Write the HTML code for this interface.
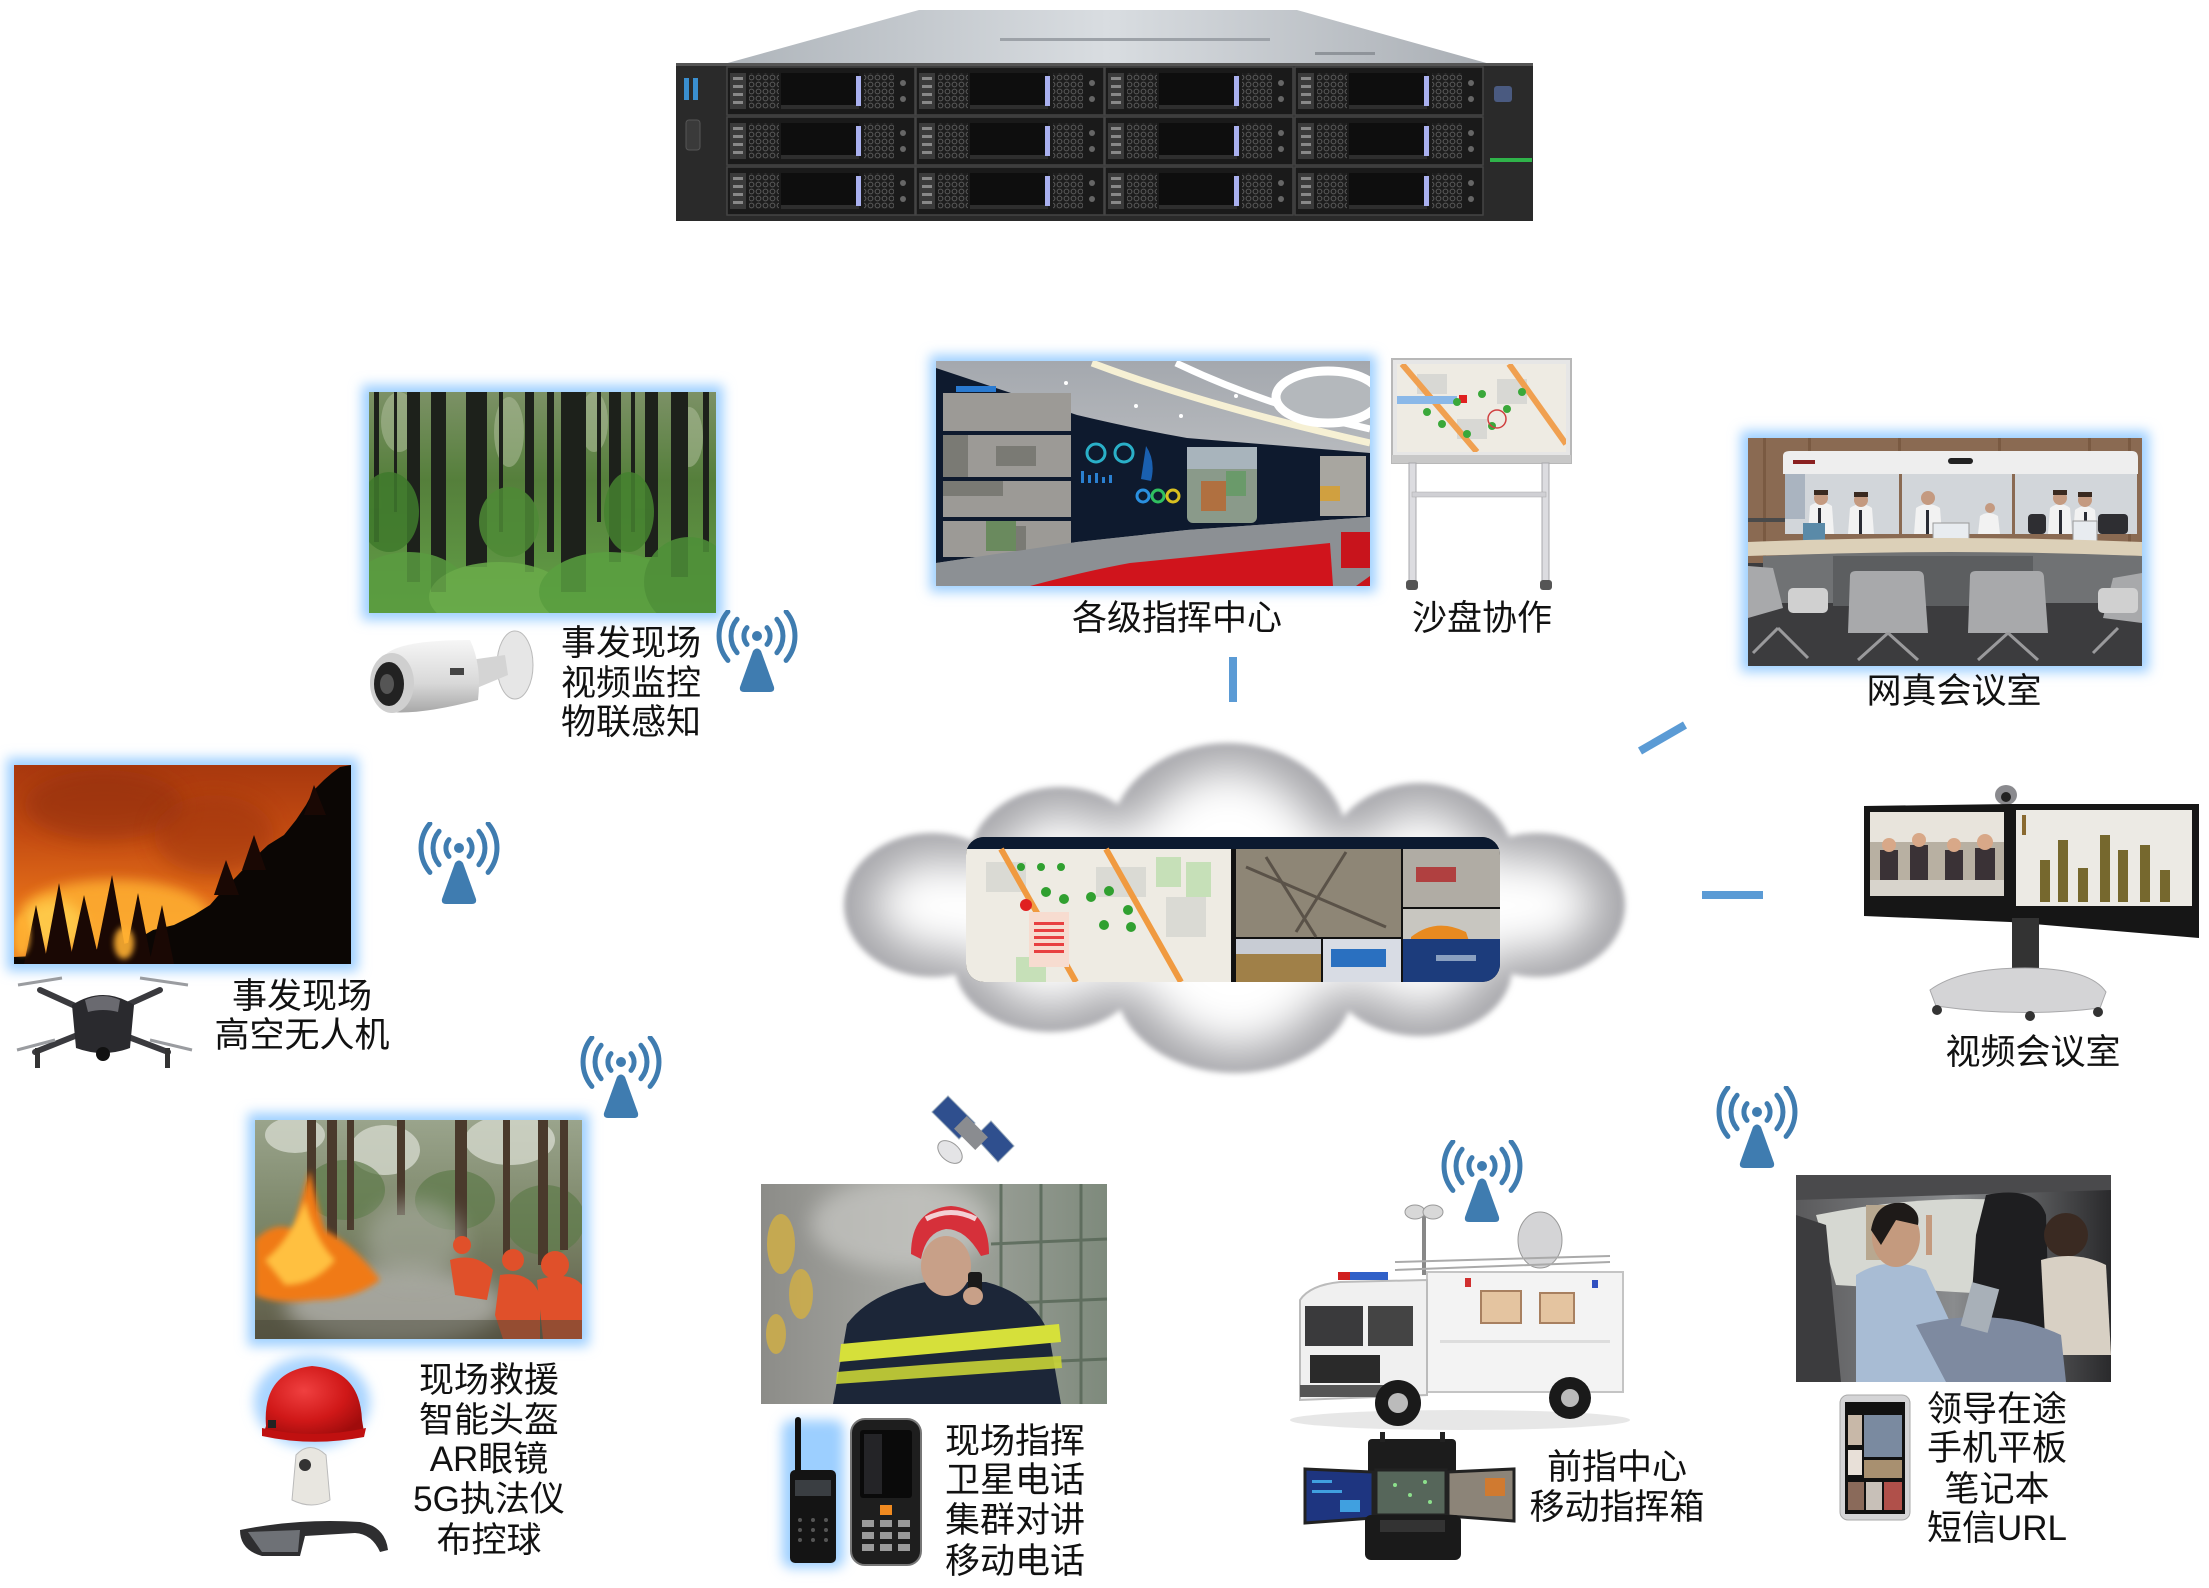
<!DOCTYPE html>
<html><head><meta charset="utf-8">
<style>
html,body{margin:0;padding:0;background:#fff;}
svg{display:block;}
text{font-family:"Liberation Sans","Noto Sans CJK SC",sans-serif;font-size:35px;fill:#111;}
</style></head><body>
<svg width="2209" height="1588" viewBox="0 0 2209 1588" xmlns="http://www.w3.org/2000/svg">
<defs>
 <filter id="blur6" x="-30%" y="-30%" width="160%" height="160%"><feGaussianBlur stdDeviation="6"/></filter>
 <filter id="blur3" x="-30%" y="-30%" width="160%" height="160%"><feGaussianBlur stdDeviation="3"/></filter>
 <filter id="blur10" x="-30%" y="-30%" width="160%" height="160%"><feGaussianBlur stdDeviation="10"/></filter>
 <filter id="cloudIn" x="-10%" y="-10%" width="120%" height="120%"><feMorphology operator="erode" radius="22"/><feGaussianBlur stdDeviation="22"/></filter>
 <linearGradient id="srvTop" x1="0" y1="0" x2="1" y2="0"><stop offset="0" stop-color="#aeb4ba"/><stop offset="0.5" stop-color="#d9dde1"/><stop offset="1" stop-color="#a9aeb4"/></linearGradient>
 <pattern id="mesh" width="7" height="7" patternUnits="userSpaceOnUse"><rect width="7" height="7" fill="#1d1d1d"/><circle cx="3.5" cy="3.5" r="2.4" fill="none" stroke="#5a5a5a" stroke-width="1"/></pattern>
 <linearGradient id="forestBg" x1="0" y1="0" x2="0" y2="1"><stop offset="0" stop-color="#7c9166"/><stop offset="0.4" stop-color="#557f3b"/><stop offset="1" stop-color="#62a046"/></linearGradient>
 <linearGradient id="fireBg" x1="0" y1="0" x2="0" y2="1"><stop offset="0" stop-color="#a8380e"/><stop offset="0.35" stop-color="#c44c12"/><stop offset="0.65" stop-color="#e06a18"/><stop offset="1" stop-color="#f09028"/></linearGradient>
 <linearGradient id="ffBg" x1="0" y1="0" x2="0" y2="1"><stop offset="0" stop-color="#9aa48c"/><stop offset="0.5" stop-color="#7a8466"/><stop offset="1" stop-color="#5e5a48"/></linearGradient>
 <linearGradient id="manBg" x1="0" y1="0" x2="1" y2="0"><stop offset="0" stop-color="#8c8c88"/><stop offset="0.45" stop-color="#a8a9a4"/><stop offset="1" stop-color="#7e8a7c"/></linearGradient>
 <linearGradient id="ccBg" x1="0" y1="0" x2="0" y2="1"><stop offset="0" stop-color="#a4a8ae"/><stop offset="0.4" stop-color="#b6b9bd"/><stop offset="1" stop-color="#8c9094"/></linearGradient>
 <linearGradient id="carBg" x1="0" y1="0" x2="1" y2="0"><stop offset="0" stop-color="#5a5a5c"/><stop offset="0.5" stop-color="#8a8c8e"/><stop offset="1" stop-color="#2a2a2c"/></linearGradient>
 <radialGradient id="helm" cx="0.4" cy="0.35" r="0.7"><stop offset="0" stop-color="#f04040"/><stop offset="0.6" stop-color="#d01818"/><stop offset="1" stop-color="#a00c0c"/></radialGradient>
 <linearGradient id="camBody" x1="0" y1="0" x2="0" y2="1"><stop offset="0" stop-color="#f6f6f6"/><stop offset="0.6" stop-color="#d8d8d8"/><stop offset="1" stop-color="#a8a8a8"/></linearGradient>
 <clipPath id="scrClip"><rect x="0" y="0" width="534" height="145" rx="18"/></clipPath>
 <symbol id="ant" viewBox="0 0 82 84">
  <g fill="none" stroke="#3f7cb0" stroke-width="5" stroke-linecap="round">
   <path d="M31,17.6 A13,13 0 0 0 31,34.4"/><path d="M51,17.6 A13,13 0 0 1 51,34.4"/>
   <path d="M21.1,9.3 A26,26 0 0 0 21.1,42.7"/><path d="M60.9,9.3 A26,26 0 0 1 60.9,42.7"/>
   <path d="M11.9,1.6 A38,38 0 0 0 11.9,50.4"/><path d="M70.1,1.6 A38,38 0 0 1 70.1,50.4"/>
  </g>
  <circle cx="41" cy="26" r="5" fill="#3f7cb0"/>
  <path d="M37,41 Q41,36 45,41 L58,77 Q59,82 54,82 L28,82 Q23,82 24,77 Z" fill="#3f7cb0"/>
 </symbol>
 <g id="bay">
  <rect x="0" y="0" width="188" height="48" fill="#1a1a1a" stroke="#444" stroke-width="1.5"/>
  <rect x="3" y="6" width="16" height="36" fill="#3a3a3a"/>
  <rect x="6" y="10" width="10" height="3" fill="#888"/><rect x="6" y="18" width="10" height="3" fill="#888"/><rect x="6" y="26" width="10" height="3" fill="#888"/><rect x="6" y="34" width="10" height="3" fill="#888"/>
  <rect x="22" y="6" width="30" height="36" fill="url(#mesh)"/>
  <rect x="54" y="6" width="78" height="36" fill="#0e0e0e"/>
  <rect x="54" y="38" width="78" height="4" fill="#2e2e2e"/>
  <rect x="129" y="9" width="5" height="30" fill="#a9b0ef"/>
  <rect x="137" y="6" width="30" height="36" fill="url(#mesh)"/>
  <circle cx="176" cy="16" r="3" fill="#666"/><circle cx="176" cy="32" r="3" fill="#666"/>
 </g>
</defs>

<rect width="2209" height="1588" fill="#fff"/>

<!-- SERVER -->
<g>
 <polygon points="919,10 1297,10 1490,64 724,64" fill="url(#srvTop)"/>
 <rect x="1000" y="38" width="270" height="3" fill="#9da2a8"/>
 <rect x="1315" y="52" width="60" height="3" fill="#8f949a"/>
 <rect x="676" y="63" width="857" height="158" fill="#2a2a2a"/>
 <rect x="676" y="63" width="857" height="3" fill="#555"/>
 <rect x="684" y="78" width="5" height="22" fill="#3a8fd0"/><rect x="693" y="78" width="5" height="22" fill="#3a8fd0"/>
 <rect x="686" y="120" width="14" height="30" rx="3" fill="#3a3a3a" stroke="#555"/>
 <rect x="1494" y="86" width="18" height="16" rx="3" fill="#4a5a80"/>
 <rect x="1490" y="158" width="42" height="4" fill="#2fb34a"/>
 <use href="#bay" x="727" y="67"/><use href="#bay" x="916" y="67"/><use href="#bay" x="1105" y="67"/><use href="#bay" x="1295" y="67"/>
 <use href="#bay" x="727" y="117"/><use href="#bay" x="916" y="117"/><use href="#bay" x="1105" y="117"/><use href="#bay" x="1295" y="117"/>
 <use href="#bay" x="727" y="167"/><use href="#bay" x="916" y="167"/><use href="#bay" x="1105" y="167"/><use href="#bay" x="1295" y="167"/>
</g>

<!-- FOREST -->
<rect x="362" y="385" width="361" height="235" fill="#9ccfff" filter="url(#blur6)"/>
<svg x="369" y="392" width="347" height="221">
 <rect width="347" height="221" fill="url(#forestBg)"/>
 <g fill="#b4c2a0" opacity="0.5"><ellipse cx="30" cy="30" rx="18" ry="30"/><ellipse cx="140" cy="40" rx="15" ry="35"/><ellipse cx="225" cy="30" rx="14" ry="30"/><ellipse cx="320" cy="45" rx="14" ry="30"/></g>
 <g fill="#1d211b">
  <rect x="5" y="0" width="5" height="150"/><rect x="38" y="0" width="13" height="190"/><rect x="62" y="0" width="15" height="200"/>
  <rect x="97" y="0" width="21" height="175"/><rect x="156" y="0" width="9" height="180"/><rect x="178" y="0" width="7" height="160"/>
  <rect x="192" y="0" width="25" height="200"/><rect x="240" y="0" width="12" height="170"/><rect x="276" y="0" width="13" height="165"/>
  <rect x="302" y="0" width="17" height="185"/><rect x="334" y="0" width="6" height="160"/>
  <rect x="25" y="0" width="3" height="120"/><rect x="130" y="0" width="4" height="140"/><rect x="228" y="0" width="4" height="130"/><rect x="262" y="0" width="4" height="140"/>
 </g>
 <g opacity="0.85">
  <ellipse cx="40" cy="200" rx="60" ry="40" fill="#5a9c40"/><ellipse cx="130" cy="205" rx="70" ry="35" fill="#6aac4a"/>
  <ellipse cx="240" cy="200" rx="70" ry="40" fill="#5aa040"/><ellipse cx="320" cy="190" rx="45" ry="45" fill="#4e9038"/>
  <ellipse cx="20" cy="120" rx="30" ry="40" fill="#3f7a2c"/><ellipse cx="140" cy="130" rx="30" ry="35" fill="#4e8a36"/>
  <ellipse cx="260" cy="120" rx="25" ry="40" fill="#45822f"/>
 </g>
</svg>

<!-- bullet camera -->
<g>
 <ellipse cx="515" cy="665" rx="18" ry="34" fill="#e6e6e6" stroke="#bbb"/>
 <path d="M470,660 L505,655 L508,675 L472,690 Z" fill="#d4d4d4"/>
 <path d="M385,655 Q400,640 470,640 Q482,665 478,700 Q420,715 390,712 Z" fill="url(#camBody)"/>
 <ellipse cx="392" cy="683" rx="22" ry="30" fill="#cfcfcf"/>
 <ellipse cx="389" cy="684" rx="15" ry="22" fill="#222"/>
 <ellipse cx="387" cy="684" rx="7" ry="10" fill="#555"/>
 <rect x="450" y="668" width="14" height="7" fill="#444"/>
</g>
<text x="631" y="655" text-anchor="middle">事发现场</text>
<text x="631" y="695" text-anchor="middle">视频监控</text>
<text x="631" y="734" text-anchor="middle">物联感知</text>
<use href="#ant" x="716" y="610" width="82" height="84"/>

<!-- FIRE -->
<rect x="7" y="758" width="351" height="213" fill="#9ccfff" filter="url(#blur6)"/>
<svg x="14" y="765" width="337" height="199">
 <rect width="337" height="199" fill="url(#fireBg)"/>
 <ellipse cx="90" cy="40" rx="80" ry="35" fill="#8a2a0a" opacity="0.5" filter="url(#blur10)"/>
 <ellipse cx="200" cy="70" rx="60" ry="40" fill="#9a3008" opacity="0.5" filter="url(#blur10)"/>
 <ellipse cx="100" cy="150" rx="95" ry="35" fill="#ffb030" opacity="0.85" filter="url(#blur6)"/>
 <ellipse cx="40" cy="160" rx="30" ry="25" fill="#ffd050" opacity="0.8" filter="url(#blur6)"/>
 <path d="M337,0 L337,199 L0,199 L0,192 L40,190 L70,186 L100,182 L120,176 L139,165 L160,160 L180,150 L196,140 L210,124 L222,112 L238,95 L254,80 L270,70 L282,55 L292,40 L300,25 L310,15 L318,8 L326,2 Z" fill="#0b0604"/>
 <g fill="#1a0804">
  <path d="M10,199 L22,140 L34,199 Z"/><path d="M30,199 L45,118 L60,199 Z"/><path d="M55,199 L70,130 L86,199 Z"/>
  <path d="M80,199 L98,110 L114,199 Z"/><path d="M110,199 L124,128 L138,199 Z"/><path d="M135,199 L148,140 L160,199 Z"/>
  <path d="M200,130 L212,95 L225,130 Z"/><path d="M228,105 L240,70 L252,105 Z"/><path d="M290,50 L300,20 L312,50 Z"/>
 </g>
 <ellipse cx="8" cy="170" rx="8" ry="20" fill="#ffb030" opacity="0.9" filter="url(#blur3)"/>
 <ellipse cx="110" cy="178" rx="10" ry="16" fill="#ffb030" opacity="0.9" filter="url(#blur3)"/>
</svg>

<!-- drone -->
<g>
 <g stroke="#3a3a3e" stroke-width="6" stroke-linecap="round"><line x1="95" y1="1015" x2="40" y2="990"/><line x1="105" y1="1015" x2="160" y2="990"/><line x1="90" y1="1030" x2="35" y2="1052"/><line x1="110" y1="1030" x2="168" y2="1052"/></g>
 <g stroke="#9a9ca0" stroke-width="3"><line x1="18" y1="985" x2="62" y2="978"/><line x1="140" y1="978" x2="188" y2="985"/><line x1="17" y1="1050" x2="55" y2="1040"/><line x1="150" y1="1040" x2="192" y2="1050"/></g>
 <path d="M72,1005 Q103,985 134,1005 L130,1048 Q103,1058 76,1048 Z" fill="#2a2a2e"/>
 <path d="M85,1000 Q103,992 120,1000 L118,1012 Q103,1008 88,1012 Z" fill="#6a6a70"/>
 <rect x="35" y="1048" width="5" height="20" fill="#333"/><rect x="165" y="1048" width="5" height="20" fill="#333"/>
 <circle cx="103" cy="1054" r="7" fill="#111"/>
</g>
<text x="302" y="1008" text-anchor="middle">事发现场</text>
<text x="302" y="1047" text-anchor="middle">高空无人机</text>
<use href="#ant" x="418" y="822" width="82" height="84"/>
<use href="#ant" x="580" y="1036" width="82" height="84"/>

<!-- FIRE FIGHT -->
<rect x="248" y="1113" width="341" height="233" fill="#9ccfff" filter="url(#blur6)"/>
<svg x="255" y="1120" width="327" height="219">
 <rect width="327" height="219" fill="url(#ffBg)"/>
 <g fill="#d4d8cc" opacity="0.8"><ellipse cx="40" cy="15" rx="30" ry="18"/><ellipse cx="130" cy="30" rx="35" ry="25"/><ellipse cx="255" cy="20" rx="45" ry="25"/></g>
 <g fill="#5e7a4a" opacity="0.7"><ellipse cx="90" cy="70" rx="40" ry="30"/><ellipse cx="200" cy="80" rx="40" ry="30"/><ellipse cx="290" cy="100" rx="40" ry="35"/></g>
 <g fill="#4a3a2c"><rect x="52" y="0" width="9" height="125"/><rect x="72" y="0" width="10" height="120"/><rect x="92" y="0" width="7" height="110"/><rect x="142" y="0" width="8" height="95"/><rect x="200" y="0" width="12" height="130"/><rect x="248" y="0" width="7" height="140"/><rect x="283" y="0" width="10" height="145"/><rect x="305" y="0" width="8" height="130"/></g>
 <ellipse cx="140" cy="185" rx="110" ry="40" fill="#b8b8b4" opacity="0.75" filter="url(#blur10)"/>
 <ellipse cx="160" cy="120" rx="50" ry="40" fill="#a8aca0" opacity="0.6" filter="url(#blur10)"/>
 <path d="M0,120 Q20,100 40,110 Q45,80 55,50 Q62,85 70,110 Q100,125 125,160 Q100,180 60,180 Q20,185 0,175 Z" fill="#f07a16" filter="url(#blur3)"/>
 <path d="M10,140 Q35,120 50,80 Q60,120 80,140 Q60,165 30,165 Z" fill="#ffc040" filter="url(#blur3)"/>
 <g fill="#e0502a">
  <circle cx="207" cy="125" r="9"/><circle cx="258" cy="140" r="11"/><circle cx="300" cy="145" r="14"/>
  <path d="M195,140 Q220,132 238,150 L232,180 L200,175 Z"/>
  <path d="M245,155 Q275,150 285,175 L285,219 L248,219 L240,195 Z"/>
  <path d="M282,160 Q315,150 327,165 L327,219 L288,219 Z"/>
 </g>
 <rect x="0" y="200" width="327" height="19" fill="#4a4a3a" opacity="0.5"/>
</svg>

<!-- helmet -->
<ellipse cx="312" cy="1402" rx="58" ry="46" fill="#a8d4ff" filter="url(#blur6)"/>
<path d="M266,1426 Q262,1372 312,1366 Q360,1370 362,1420 L364,1432 Q312,1442 264,1432 Z" fill="url(#helm)"/>
<path d="M262,1428 Q312,1440 366,1428 L364,1437 Q312,1447 262,1436 Z" fill="#c01010"/>
<rect x="268" y="1420" width="8" height="8" fill="#222"/>
<!-- dome cam -->
<path d="M296,1455 Q310,1440 326,1455 L330,1500 Q312,1510 292,1500 Z" fill="#e8e6e0" stroke="#bbb"/>
<circle cx="305" cy="1465" r="6" fill="#333"/>
<!-- glasses -->
<path d="M240,1530 Q300,1518 360,1522 Q385,1526 388,1550 L380,1552 Q372,1534 355,1533 L305,1536 L300,1556 L262,1556 Q240,1550 240,1530 Z" fill="#2e2e30"/>
<path d="M248,1532 L300,1530 L298,1552 L262,1552 Z" fill="#8a8e94" opacity="0.7"/>
<text x="489" y="1392" text-anchor="middle">现场救援</text>
<text x="489" y="1432" text-anchor="middle">智能头盔</text>
<text x="489" y="1471" text-anchor="middle">AR眼镜</text>
<text x="489" y="1511" text-anchor="middle">5G执法仪</text>
<text x="489" y="1552" text-anchor="middle">布控球</text>

<!-- satellite -->
<g>
 <polygon points="932,1112 948,1096 975,1123 959,1139" fill="#2f4f8e" stroke="#9ab" stroke-width="1"/>
 <polygon points="975,1137 991,1121 1014,1146 998,1162" fill="#2f4f8e" stroke="#9ab" stroke-width="1"/>
 <rect x="962" y="1118" width="18" height="30" transform="rotate(-45 971 1133)" fill="#8a8c90"/>
 <ellipse cx="950" cy="1152" rx="14" ry="9" transform="rotate(40 950 1152)" fill="#e4e4e6" stroke="#999"/>
</g>

<!-- FIREFIGHTER -->
<svg x="761" y="1184" width="346" height="220">
 <rect width="346" height="220" fill="url(#manBg)"/>
 <ellipse cx="140" cy="40" rx="90" ry="45" fill="#c8c8c4" opacity="0.7" filter="url(#blur10)"/>
 <g fill="#cfae48" opacity="0.85"><ellipse cx="20" cy="60" rx="14" ry="30"/><ellipse cx="40" cy="110" rx="12" ry="25"/><ellipse cx="15" cy="150" rx="10" ry="20"/></g>
 <g stroke="#566656" stroke-width="3" opacity="0.8"><line x1="240" y1="0" x2="240" y2="220"/><line x1="280" y1="0" x2="280" y2="220"/><line x1="320" y1="0" x2="320" y2="220"/><line x1="230" y1="60" x2="346" y2="55"/><line x1="230" y1="120" x2="346" y2="115"/><line x1="230" y1="180" x2="346" y2="175"/></g>
 <path d="M72,220 L86,140 Q110,108 165,98 L225,98 Q272,110 288,150 L300,220 Z" fill="#1c2638"/>
 <path d="M80,160 Q190,150 298,140 L300,158 Q190,168 78,178 Z" fill="#d6e03a"/>
 <path d="M76,188 Q190,178 300,172 L301,184 Q190,192 75,200 Z" fill="#c9d436" opacity="0.9"/>
 <ellipse cx="185" cy="82" rx="25" ry="30" fill="#c8a088"/>
 <path d="M150,70 Q150,25 190,22 Q228,25 228,70 L220,72 Q205,45 185,45 Q165,48 160,75 Z" fill="#d6303a"/>
 <path d="M165,35 Q190,22 215,35" stroke="#f3d0d4" stroke-width="5" fill="none"/>
 <rect x="207" y="88" width="14" height="22" rx="3" fill="#1a1a1a"/>
 <ellipse cx="212" cy="112" rx="10" ry="9" fill="#c8a088"/>
</svg>

<!-- walkie -->
<rect x="782" y="1420" width="62" height="148" rx="10" fill="#9ccfff" filter="url(#blur6)"/>
<rect x="795" y="1417" width="6" height="58" rx="3" fill="#111"/>
<rect x="790" y="1470" width="46" height="93" rx="5" fill="#141414"/>
<rect x="795" y="1480" width="36" height="16" fill="#3a3e42"/>
<g fill="#555"><circle cx="800" cy="1520" r="2"/><circle cx="813" cy="1520" r="2"/><circle cx="826" cy="1520" r="2"/><circle cx="800" cy="1530" r="2"/><circle cx="813" cy="1530" r="2"/><circle cx="826" cy="1530" r="2"/><circle cx="800" cy="1540" r="2"/><circle cx="813" cy="1540" r="2"/><circle cx="826" cy="1540" r="2"/></g>
<!-- phone -->
<rect x="851" y="1419" width="70" height="146" rx="14" fill="#1e1e1e" stroke="#777" stroke-width="2"/>
<rect x="860" y="1430" width="52" height="68" rx="3" fill="#0a0a0a"/>
<rect x="864" y="1434" width="18" height="60" fill="#2a2a2e" opacity="0.8"/>
<rect x="880" y="1505" width="12" height="10" fill="#f08a20"/>
<g fill="#9a9a9a"><rect x="862" y="1520" width="12" height="7"/><rect x="880" y="1520" width="12" height="7"/><rect x="898" y="1520" width="12" height="7"/><rect x="862" y="1532" width="12" height="7"/><rect x="880" y="1532" width="12" height="7"/><rect x="898" y="1532" width="12" height="7"/><rect x="862" y="1544" width="12" height="7"/><rect x="880" y="1544" width="12" height="7"/><rect x="898" y="1544" width="12" height="7"/></g>
<text x="1015" y="1453" text-anchor="middle">现场指挥</text>
<text x="1015" y="1492" text-anchor="middle">卫星电话</text>
<text x="1015" y="1532" text-anchor="middle">集群对讲</text>
<text x="1015" y="1573" text-anchor="middle">移动电话</text>

<!-- COMMAND CENTER -->
<rect x="930" y="355" width="446" height="237" fill="#9ccfff" filter="url(#blur6)"/>
<svg x="936" y="361" width="434" height="225">
 <rect width="434" height="225" fill="url(#ccBg)"/>
 <path d="M156,2 Q270,45 434,82" stroke="#f6f0d4" stroke-width="7" fill="none"/>
 <path d="M240,2 Q330,45 434,68" stroke="#ffffff" stroke-width="7" fill="none"/>
 <ellipse cx="392" cy="36" rx="52" ry="26" fill="#b4b8bc" stroke="#fff" stroke-width="9"/>
 <g fill="#fff"><circle cx="130" cy="22" r="2"/><circle cx="200" cy="45" r="2"/><circle cx="245" cy="55" r="2"/><circle cx="300" cy="35" r="2"/></g>
 <path d="M0,7 L141,54 Q200,68 251,77 L434,92 L434,156 L251,169 L141,181 L0,202 Z" fill="#0e1a2e"/>
 <g fill="#9c9a96"><rect x="7" y="32" width="128" height="38"/><rect x="7" y="74" width="128" height="42"/><rect x="7" y="120" width="128" height="36"/><rect x="7" y="160" width="128" height="36"/></g>
 <g fill="#7a7a74"><rect x="7" y="74" width="25" height="42"/><rect x="60" y="85" width="40" height="20"/><rect x="7" y="120" width="60" height="15"/><rect x="60" y="165" width="30" height="25"/></g>
 <g fill="#6a8a5e"><rect x="50" y="160" width="30" height="30"/></g>
 <rect x="20" y="25" width="40" height="6" fill="#2a7ad0"/>
 <g fill="none" stroke-width="3"><circle cx="160" cy="92" r="9" stroke="#2ab0c8"/><circle cx="188" cy="92" r="9" stroke="#2ab0c8"/><circle cx="207" cy="135" r="6" stroke="#2a90e0"/><circle cx="222" cy="135" r="6" stroke="#30c060"/><circle cx="237" cy="135" r="6" stroke="#d8c020"/></g>
 <g fill="#2a80d0"><rect x="145" y="110" width="3" height="12"/><rect x="152" y="114" width="3" height="8"/><rect x="159" y="112" width="3" height="10"/><rect x="166" y="116" width="3" height="6"/><rect x="173" y="114" width="3" height="8"/></g>
 <path d="M210,85 Q220,100 215,120 L205,118 Z" fill="#1a60b0"/>
 <rect x="251" y="86" width="70" height="76" rx="6" fill="#8a9a8a"/>
 <rect x="251" y="86" width="70" height="22" fill="#a8b4bc"/>
 <rect x="265" y="120" width="25" height="30" fill="#b07040"/>
 <rect x="290" y="110" width="20" height="25" fill="#6a9a6a"/>
 <rect x="384" y="95" width="46" height="60" fill="#a8a6a0"/>
 <rect x="384" y="125" width="20" height="15" fill="#d0a040"/>
 <path d="M0,202 L141,181 L251,169 L434,156 L434,225 L0,225 Z" fill="#8c9094"/>
 <path d="M94,225 Q150,210 194,202 L394,182 L397,225 Z" fill="#d0141c"/>
 <rect x="405" y="171" width="29" height="36" fill="#c8141c"/>
 <path d="M420,225 L434,215 L434,225 Z" fill="#c8141c"/>
</svg>
<text x="1177" y="630" text-anchor="middle">各级指挥中心</text>

<!-- SANDBOX -->
<g>
 <rect x="1392" y="359" width="179" height="104" fill="#e6e6e6" stroke="#b8b8b8" stroke-width="2"/>
 <svg x="1397" y="364" width="169" height="88">
  <rect width="169" height="88" fill="#eeebe3"/>
  <g fill="#d8d8d4"><rect x="20" y="10" width="30" height="20"/><rect x="100" y="15" width="30" height="25"/><rect x="60" y="55" width="30" height="20"/></g>
  <path d="M5,0 L80,88" stroke="#f0a050" stroke-width="6"/>
  <path d="M112,0 L169,80" stroke="#f0a050" stroke-width="6"/>
  <rect x="0" y="32" width="60" height="8" fill="#8ab8e8"/>
  <rect x="62" y="31" width="8" height="8" fill="#e02020"/>
  <g fill="#3aa83a"><circle cx="30" cy="48" r="4"/><circle cx="45" cy="60" r="4"/><circle cx="60" cy="38" r="4"/><circle cx="85" cy="30" r="4"/><circle cx="110" cy="45" r="4"/><circle cx="125" cy="28" r="4"/><circle cx="70" cy="70" r="4"/><circle cx="95" cy="62" r="4"/></g>
  <circle cx="100" cy="55" r="9" fill="none" stroke="#d04040" stroke-width="1.5"/>
 </svg>
 <rect x="1392" y="455" width="179" height="8" fill="#c8c8c8"/>
 <rect x="1409" y="463" width="7" height="118" fill="#dcdce0" stroke="#a8a8ac"/>
 <rect x="1542" y="463" width="7" height="118" fill="#dcdce0" stroke="#a8a8ac"/>
 <rect x="1412" y="492" width="134" height="5" fill="#d0d0d4" stroke="#aaa" stroke-width="0.5"/>
 <rect x="1406" y="580" width="12" height="10" rx="3" fill="#555"/><rect x="1540" y="580" width="12" height="10" rx="3" fill="#555"/>
</g>
<text x="1482" y="630" text-anchor="middle">沙盘协作</text>

<!-- connectors -->
<rect x="1229" y="657" width="8" height="45" fill="#5b9bd5"/>
<line x1="1640" y1="751" x2="1685" y2="725" stroke="#5b9bd5" stroke-width="8"/>
<rect x="1702" y="891" width="61" height="8" fill="#5b9bd5"/>

<!-- NETWORK ROOM -->
<rect x="1741" y="431" width="408" height="241" fill="#9ccfff" filter="url(#blur6)"/>
<svg x="1748" y="438" width="394" height="228">
 <rect width="394" height="228" fill="#3c3c3e"/>
 <rect x="0" y="0" width="394" height="125" fill="#8a6a52"/>
 <g fill="#7a5a42"><rect x="15" y="0" width="3" height="125"/><rect x="60" y="0" width="3" height="14"/><rect x="150" y="0" width="3" height="14"/><rect x="250" y="0" width="3" height="14"/><rect x="340" y="0" width="3" height="14"/><rect x="380" y="0" width="3" height="125"/></g>
 <rect x="0" y="80" width="40" height="4" fill="#4a4a4a"/>
 <path d="M35,18 Q35,13 42,13 L384,13 Q390,13 390,20 L390,36 L35,36 Z" fill="#eeeeee"/>
 <rect x="200" y="20" width="25" height="6" rx="3" fill="#222"/>
 <rect x="45" y="22" width="22" height="4" fill="#8a2020"/>
 <g fill="#d2d6da"><rect x="37" y="36" width="114" height="60"/><rect x="154" y="36" width="110" height="60"/><rect x="267" y="36" width="122" height="60"/></g>
 <rect x="37" y="36" width="20" height="45" fill="#aab4c0"/>
 <g fill="#f2f2f2"><path d="M60,96 L62,68 Q72,60 84,68 L86,96 Z"/><path d="M100,96 L102,70 Q113,62 124,70 L126,96 Z"/><path d="M166,96 L168,70 Q180,62 192,70 L194,96 Z"/><path d="M230,96 L232,78 Q240,72 250,78 L252,96 Z"/><path d="M300,96 L302,70 Q312,62 322,70 L324,96 Z"/><path d="M325,96 L327,72 Q337,64 347,72 L349,96 Z"/></g>
 <g fill="#2a2c34"><rect x="70" y="70" width="3" height="26"/><rect x="111" y="72" width="3" height="24"/><rect x="178" y="72" width="3" height="24"/><rect x="311" y="72" width="3" height="24"/><rect x="336" y="74" width="3" height="22"/></g>
 <g fill="#2e2e32"><rect x="280" y="76" width="18" height="20" rx="4"/><rect x="350" y="76" width="30" height="20" rx="4"/></g>
 <g fill="#c49a80"><circle cx="73" cy="60" r="7"/><circle cx="113" cy="62" r="7"/><circle cx="180" cy="60" r="7"/><circle cx="242" cy="70" r="5"/><circle cx="312" cy="60" r="7"/><circle cx="337" cy="62" r="7"/></g>
 <g fill="#3a2a20"><rect x="66" y="52" width="14" height="5"/><rect x="106" y="54" width="14" height="5"/><rect x="305" y="52" width="14" height="5"/><rect x="330" y="54" width="14" height="5"/></g>
 <rect x="55" y="85" width="22" height="18" fill="#5a8aa8"/>
 <rect x="185" y="85" width="36" height="26" fill="#e8ecf0" stroke="#999"/>
 <rect x="325" y="83" width="24" height="22" fill="#e8ecf0" stroke="#999"/>
 <path d="M0,104 Q200,96 394,104 L394,118 Q200,112 0,118 Z" fill="#dcd0b8"/>
 <path d="M15,118 Q200,110 394,118 L394,165 L15,165 Z" fill="#707274"/>
 <rect x="85" y="118" width="200" height="50" fill="#5c5e60"/>
 <g fill="#a8a9ab"><path d="M102,138 Q102,133 108,133 L170,133 Q176,133 176,140 L180,195 L100,195 Z"/><path d="M222,138 Q222,133 228,133 L290,133 Q296,133 296,140 L300,195 L220,195 Z"/><path d="M0,128 L25,130 L35,170 L0,180 Z"/><path d="M365,140 L394,135 L394,185 L355,180 Z"/></g>
 <g fill="#d0d0d0"><rect x="40" y="150" width="40" height="25" rx="5"/><rect x="350" y="150" width="40" height="25" rx="5"/></g>
 <g stroke="#9a9a9c" stroke-width="3" fill="none"><path d="M140,195 L110,222 M140,195 L170,222"/><path d="M260,195 L230,222 M260,195 L290,222"/><path d="M30,190 L5,215 M30,190 L60,220"/><path d="M370,190 L345,215"/></g>
</svg>
<text x="1954" y="703" text-anchor="middle">网真会议室</text>

<!-- CLOUD -->
<g>
 <g fill="#a6a6aa" filter="url(#blur3)">
  <ellipse cx="1228" cy="845" rx="120" ry="102"/><ellipse cx="1060" cy="865" rx="92" ry="78"/><ellipse cx="1420" cy="865" rx="95" ry="82"/>
  <ellipse cx="932" cy="905" rx="88" ry="72"/><ellipse cx="1537" cy="905" rx="88" ry="72"/>
  <ellipse cx="1050" cy="962" rx="96" ry="70"/><ellipse cx="1235" cy="982" rx="120" ry="91"/><ellipse cx="1420" cy="968" rx="92" ry="68"/>
  <rect x="960" y="850" width="560" height="120"/>
 </g>
 <g fill="#ffffff" filter="url(#cloudIn)">
  <ellipse cx="1228" cy="845" rx="120" ry="102"/><ellipse cx="1060" cy="865" rx="92" ry="78"/><ellipse cx="1420" cy="865" rx="95" ry="82"/>
  <ellipse cx="932" cy="905" rx="88" ry="72"/><ellipse cx="1537" cy="905" rx="88" ry="72"/>
  <ellipse cx="1050" cy="962" rx="96" ry="70"/><ellipse cx="1235" cy="982" rx="120" ry="91"/><ellipse cx="1420" cy="968" rx="92" ry="68"/>
  <rect x="960" y="850" width="560" height="120"/>
 </g>
</g>
<svg x="966" y="837" width="534" height="145">
 <g clip-path="url(#scrClip)">
  <rect width="534" height="145" fill="#111"/>
  <rect x="0" y="0" width="534" height="12" fill="#0c1a30"/>
  <rect x="0" y="12" width="265" height="133" fill="#eeebe3"/>
  <g fill="#dadad4"><rect x="20" y="25" width="40" height="30"/><rect x="130" y="30" width="50" height="30"/><rect x="200" y="60" width="40" height="40"/></g>
  <g fill="#c6e0b8"><rect x="190" y="20" width="25" height="30"/><rect x="220" y="25" width="25" height="35"/><rect x="50" y="120" width="30" height="25"/></g>
  <path d="M35,12 L110,145" stroke="#f09a40" stroke-width="6"/>
  <path d="M140,12 L215,145" stroke="#f09a40" stroke-width="6"/>
  <rect x="63" y="75" width="40" height="55" fill="#f7dcd0"/>
  <g fill="#e84040"><rect x="68" y="85" width="30" height="3"/><rect x="68" y="92" width="30" height="3"/><rect x="68" y="99" width="30" height="3"/><rect x="68" y="106" width="30" height="3"/><rect x="68" y="113" width="30" height="3"/></g>
  <circle cx="60" cy="68" r="6" fill="#e02020"/>
  <g fill="#30a030"><circle cx="80" cy="55" r="5"/><circle cx="98" cy="62" r="5"/><circle cx="125" cy="60" r="5"/><circle cx="143" cy="54" r="5"/><circle cx="162" cy="73" r="5"/><circle cx="138" cy="88" r="5"/><circle cx="165" cy="90" r="5"/><circle cx="55" cy="30" r="4"/><circle cx="75" cy="30" r="4"/><circle cx="95" cy="30" r="4"/></g>
  <rect x="265" y="12" width="5" height="133" fill="#111"/>
  <rect x="270" y="12" width="165" height="88" fill="#8e8676"/>
  <g stroke="#5a5248" stroke-width="3"><line x1="280" y1="30" x2="420" y2="90"/><line x1="300" y1="20" x2="350" y2="100"/><line x1="380" y1="15" x2="330" y2="95"/></g>
  <rect x="437" y="12" width="97" height="58" fill="#b0aca4"/>
  <rect x="450" y="30" width="40" height="15" fill="#b04040"/>
  <rect x="437" y="72" width="97" height="40" fill="#c8c6c0"/>
  <path d="M445,100 Q470,80 500,95 L505,110 L445,112 Z" fill="#e88a20"/>
  <rect x="270" y="102" width="85" height="43" fill="#a08048"/>
  <rect x="270" y="102" width="85" height="15" fill="#c8ccd4"/>
  <rect x="357" y="102" width="78" height="43" fill="#d8dce4"/>
  <rect x="365" y="112" width="55" height="18" fill="#2a70c0"/>
  <rect x="437" y="102" width="97" height="43" fill="#1c3c7c"/>
  <rect x="470" y="118" width="40" height="6" fill="#8aa0c0"/>
 </g>
</svg>

<!-- VIDEO CONF TV -->
<g>
 <ellipse cx="2006" cy="795" rx="11" ry="10" fill="#8a8a8e"/>
 <circle cx="2006" cy="797" r="5" fill="#222"/>
 <polygon points="1864,806 2010,804 2010,922 1864,916" fill="#161616"/>
 <polygon points="2010,804 2199,804 2199,938 2010,922" fill="#161616"/>
 <rect x="1870" y="812" width="134" height="84" fill="#b8b0a2"/>
 <g fill="#e8e4dc"><rect x="1870" y="812" width="134" height="30"/></g>
 <g fill="#3a3236"><rect x="1880" y="850" width="18" height="30"/><rect x="1910" y="845" width="18" height="35"/><rect x="1945" y="850" width="18" height="30"/><rect x="1975" y="848" width="20" height="34"/></g>
 <g fill="#d8a888"><circle cx="1889" cy="845" r="7"/><circle cx="1919" cy="840" r="7"/><circle cx="1954" cy="845" r="7"/><circle cx="1985" cy="842" r="8"/></g>
 <rect x="1870" y="880" width="134" height="16" fill="#d8d4cc"/>
 <rect x="2016" y="810" width="176" height="96" fill="#eceae4"/>
 <rect x="2022" y="815" width="4" height="20" fill="#8a6a30"/>
 <g fill="#76682e"><rect x="2040" y="860" width="10" height="42"/><rect x="2058" y="840" width="10" height="62"/><rect x="2078" y="868" width="10" height="34"/><rect x="2100" y="835" width="10" height="67"/><rect x="2118" y="850" width="10" height="52"/><rect x="2140" y="845" width="10" height="57"/><rect x="2160" y="870" width="10" height="32"/></g>
 <rect x="2012" y="918" width="27" height="65" fill="#333"/>
 <path d="M1930,990 Q1960,968 2025,968 Q2090,968 2106,992 L2100,1008 Q2020,1018 1936,1006 Z" fill="#d4d4d6" stroke="#a8a8aa"/>
 <circle cx="1937" cy="1010" r="5" fill="#333"/><circle cx="2098" cy="1012" r="5" fill="#333"/><circle cx="2030" cy="1016" r="5" fill="#333"/>
</g>
<text x="2033" y="1064" text-anchor="middle">视频会议室</text>

<!-- antennas right -->
<use href="#ant" x="1716" y="1086" width="82" height="84"/>
<use href="#ant" x="1441" y="1140" width="82" height="84"/>

<!-- TRUCK -->
<g>
 <ellipse cx="1460" cy="1420" rx="170" ry="10" fill="#ddd" opacity="0.7"/>
 <line x1="1424" y1="1212" x2="1424" y2="1275" stroke="#888" stroke-width="4"/>
 <ellipse cx="1415" cy="1212" rx="10" ry="7" fill="#d8d8d8" stroke="#999"/><ellipse cx="1433" cy="1212" rx="10" ry="7" fill="#d8d8d8" stroke="#999"/>
 <ellipse cx="1540" cy="1240" rx="22" ry="28" fill="#d4d4d6" stroke="#999"/>
 <path d="M1395,1270 L1610,1262 M1395,1262 L1610,1256" stroke="#aaa" stroke-width="2"/>
 <rect x="1427" y="1272" width="196" height="120" fill="#f3f3f3" stroke="#c4c4c4" stroke-width="2"/>
 <rect x="1481" y="1291" width="40" height="32" fill="#e4c4a0" stroke="#a88060" stroke-width="2"/>
 <rect x="1540" y="1293" width="34" height="30" fill="#e4c4a0" stroke="#a88060" stroke-width="2"/>
 <rect x="1440" y="1340" width="170" height="3" fill="#ddd"/>
 <rect x="1592" y="1280" width="6" height="8" fill="#3050c0"/>
 <rect x="1465" y="1278" width="6" height="9" fill="#d03030"/>
 <path d="M1300,1300 Q1310,1285 1340,1282 L1427,1280 L1427,1395 L1300,1400 Z" fill="#f0f0f0" stroke="#bbb" stroke-width="2"/>
 <rect x="1305" y="1306" width="58" height="40" fill="#3a3a3c"/>
 <rect x="1368" y="1306" width="45" height="40" fill="#444"/>
 <rect x="1310" y="1355" width="70" height="28" fill="#2a2a2a"/>
 <rect x="1300" y="1385" width="100" height="12" fill="#555"/>
 <rect x="1338" y="1272" width="50" height="8" fill="#3060c8"/><rect x="1338" y="1272" width="12" height="8" fill="#d02020"/>
 <circle cx="1398" cy="1403" r="23" fill="#1a1a1a"/><circle cx="1398" cy="1403" r="10" fill="#bbb"/>
 <circle cx="1570" cy="1398" r="21" fill="#1a1a1a"/><circle cx="1570" cy="1398" r="9" fill="#bbb"/>
</g>
<!-- command box -->
<g>
 <rect x="1368" y="1439" width="88" height="42" rx="4" fill="#1c1c1c"/>
 <rect x="1380" y="1432" width="5" height="10" fill="#222"/><rect x="1440" y="1432" width="5" height="10" fill="#222"/>
 <polygon points="1305,1469 1373,1472 1373,1518 1305,1523" fill="#1e3580" stroke="#222" stroke-width="3"/>
 <g fill="#40a0e0"><rect x="1312" y="1480" width="20" height="3"/><rect x="1312" y="1490" width="30" height="3"/><rect x="1340" y="1500" width="20" height="12"/></g>
 <rect x="1376" y="1470" width="70" height="45" fill="#56665a" stroke="#222" stroke-width="3"/>
 <g fill="#8ce08c"><circle cx="1395" cy="1485" r="2"/><circle cx="1410" cy="1495" r="2"/><circle cx="1425" cy="1482" r="2"/><circle cx="1430" cy="1502" r="2"/></g>
 <polygon points="1448,1472 1514,1469 1514,1521 1448,1516" fill="#8c8478" stroke="#222" stroke-width="3"/>
 <rect x="1485" y="1478" width="20" height="18" fill="#d07a30"/>
 <rect x="1365" y="1515" width="96" height="45" rx="6" fill="#1a1a1a"/>
 <rect x="1380" y="1520" width="65" height="12" fill="#333"/>
</g>
<text x="1617" y="1479" text-anchor="middle">前指中心</text>
<text x="1617" y="1519" text-anchor="middle">移动指挥箱</text>

<!-- CAR -->
<svg x="1796" y="1175" width="315" height="207">
 <rect width="315" height="207" fill="url(#carBg)"/>
 <path d="M20,40 Q120,20 210,25 L210,120 L40,110 Z" fill="#d6d8d2"/>
 <rect x="70" y="30" width="40" height="55" fill="#b8a890"/>
 <path d="M0,0 L315,0 L315,15 L0,25 Z" fill="#4a4a4c"/>
 <path d="M0,40 L30,50 L45,207 L0,207 Z" fill="#3c3c3e"/>
 <path d="M190,20 Q240,10 250,40 L255,207 L170,207 L180,60 Z" fill="#1e1e20"/>
 <circle cx="270" cy="60" r="22" fill="#3a2a22"/>
 <path d="M245,85 Q280,75 310,90 L315,180 L250,180 Z" fill="#d8d0c4"/>
 <path d="M60,100 Q90,80 130,95 L160,160 L200,190 L170,207 L60,207 Z" fill="#a8bcd4"/>
 <path d="M120,150 Q200,130 265,160 L270,207 L150,207 Z" fill="#7e8aa0"/>
 <ellipse cx="100" cy="62" rx="24" ry="30" fill="#c49a7e"/>
 <path d="M75,55 Q80,25 108,28 Q125,35 122,50 L100,45 L85,70 Z" fill="#1e1a18"/>
 <rect x="130" y="40" width="6" height="40" fill="#c49a7e"/>
 <rect x="170" y="110" width="28" height="45" fill="#a8b0b8" transform="rotate(15 184 132)"/>
</svg>
<!-- tablet -->
<rect x="1840" y="1395" width="70" height="125" rx="8" fill="#d4d4d6" stroke="#aaa"/>
<rect x="1845" y="1402" width="60" height="112" fill="#111"/>
<g>
 <rect x="1848" y="1415" width="14" height="30" fill="#c8b8a8"/><rect x="1864" y="1415" width="38" height="42" fill="#7a8aa0"/>
 <rect x="1848" y="1450" width="14" height="25" fill="#e8e0d8"/><rect x="1864" y="1460" width="38" height="18" fill="#a89070"/>
 <rect x="1848" y="1482" width="16" height="28" fill="#8a6a5a"/><rect x="1866" y="1482" width="16" height="28" fill="#c8c0b8"/><rect x="1884" y="1482" width="18" height="28" fill="#b0504a"/>
</g>
<text x="1997" y="1421" text-anchor="middle">领导在途</text>
<text x="1997" y="1460" text-anchor="middle">手机平板</text>
<text x="1997" y="1501" text-anchor="middle">笔记本</text>
<text x="1997" y="1540" text-anchor="middle">短信URL</text>
</svg>
</body></html>
